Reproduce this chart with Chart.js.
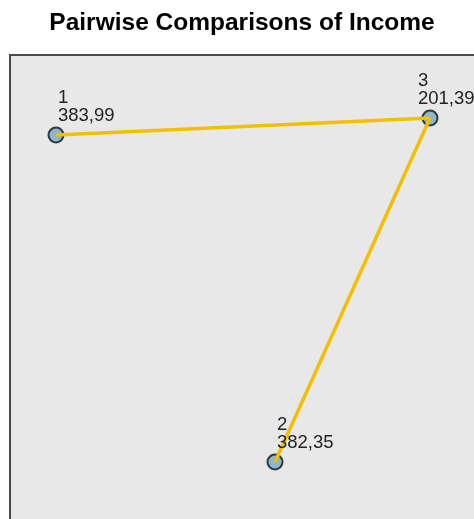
<!DOCTYPE html>
<html>
<head>
<meta charset="utf-8">
<script src="https://cdn.jsdelivr.net/npm/chart.js@4/dist/chart.umd.min.js"></script>
<style>
  html, body { margin: 0; padding: 0; background: #ffffff; }
  #wrap { width: 474px; height: 519px; position: relative; }
</style>
</head>
<body>
<div id="wrap"><canvas id="c" width="474" height="519"></canvas></div>
<script>
// ---- data ----
const chartTitle = "Pairwise Comparisons of Income";
const nodeNames = ["1", "2", "3"];
const meanRanks = ["383,99", "382,35", "201,39"];
// layout coordinates of the nodes in the network diagram (abstract units 0..463)
const nodeX = [45, 264, 419];
const nodeY = [79, 406, 62];
// edges between nodes (indices into the node arrays)
const edgeFrom = [0, 2];
const edgeTo = [2, 1];

// ---- styling ----
const labelDx = [2, 2, -12];
const lineColor = "#f2c000";
const nodeFill = "#8fb6cf";
const nodeBorder = "#2e3a40";
const panelFill = "#e8e8e8";
const panelBorder = "#4a4a4a";

const points = nodeX.map((x, i) => ({ x: x, y: nodeY[i] }));

const datasets = [];
edgeFrom.forEach((f, k) => {
  datasets.push({
    type: 'scatter',
    data: [points[f], points[edgeTo[k]]],
    showLine: true,
    borderColor: lineColor,
    borderWidth: 3.5,
    pointRadius: 0,
    clip: false,
    order: 1
  });
});
datasets.push({
  type: 'scatter',
  data: points,
  pointRadius: 7.5,
  pointBackgroundColor: nodeFill,
  pointBorderColor: nodeBorder,
  pointBorderWidth: 2,
  showLine: false,
  clip: false,
  order: 2
});

const panelPlugin = {
  id: 'panel',
  beforeDraw(chart) {
    const { ctx, chartArea: a } = chart;
    ctx.save();
    ctx.fillStyle = panelFill;
    ctx.fillRect(a.left, a.top, a.right - a.left + 10, a.bottom - a.top + 10);
    ctx.strokeStyle = panelBorder;
    ctx.lineWidth = 2;
    ctx.beginPath();
    ctx.moveTo(a.left - 1, a.bottom + 10);
    ctx.lineTo(a.left - 1, a.top - 1);
    ctx.lineTo(a.right + 10, a.top - 1);
    ctx.stroke();
    // title
    ctx.fillStyle = "#000";
    ctx.font = "bold 24.5px 'Liberation Sans', Arial, sans-serif";
    ctx.textAlign = "center";
    ctx.textBaseline = "alphabetic";
    ctx.fillText(chartTitle, 242, 30);
    ctx.restore();
  },
  afterDraw(chart) {
    const { ctx } = chart;
    const xs = chart.scales.x, ys = chart.scales.y;
    ctx.save();
    ctx.fillStyle = "#222";
    ctx.font = "18.5px 'Liberation Sans', Arial, sans-serif";
    ctx.textAlign = "left";
    ctx.textBaseline = "alphabetic";
    nodeX.forEach((x, i) => {
      const px = xs.getPixelForValue(x) + labelDx[i];
      const py = ys.getPixelForValue(nodeY[i]);
      ctx.fillText(nodeNames[i], px, py - 32);
      ctx.fillText(meanRanks[i], px, py - 14);
    });
    ctx.restore();
  }
};

new Chart(document.getElementById('c'), {
  data: { datasets: datasets },
  options: {
    responsive: false,
    animation: false,
    layout: { autoPadding: false, padding: { left: 11, top: 56, right: 0, bottom: 0 } },
    plugins: { legend: { display: false }, tooltip: { enabled: false }, title: { display: false } },
    scales: {
      x: { type: 'linear', display: false, min: 0, max: 463 },
      y: { type: 'linear', display: false, min: 0, max: 463, reverse: true }
    }
  },
  plugins: [panelPlugin]
});
</script>
</body>
</html>
